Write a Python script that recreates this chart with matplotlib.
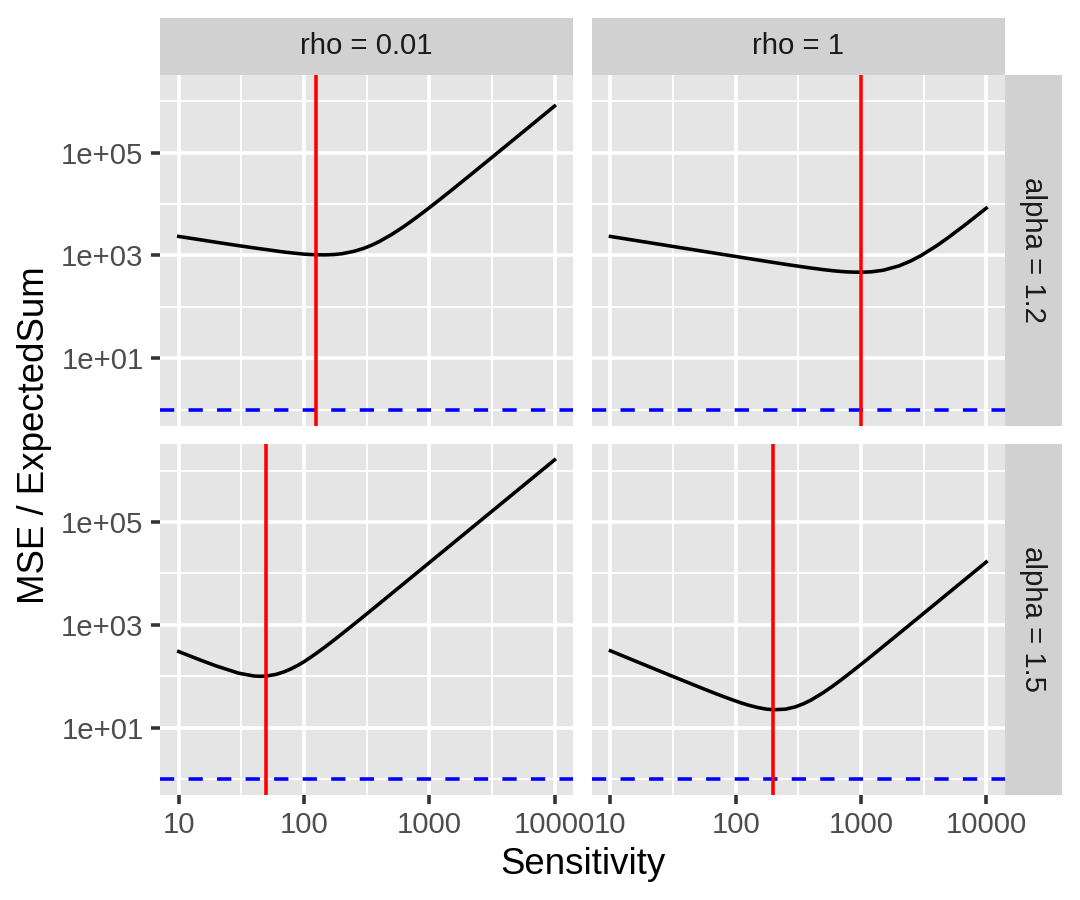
import matplotlib
matplotlib.use("Agg")
import matplotlib.pyplot as plt
import numpy as np

plt.rcParams['font.family'] = ['Liberation Sans', 'DejaVu Sans']

# ---------------- data ----------------
sensitivity = [10, 15, 20, 30, 40, 45, 50, 60, 70, 80, 90, 100, 110, 125, 150,
               175, 200, 250, 300, 350, 400, 500, 600, 700, 800, 1000, 1200,
               1500, 2000, 2500, 3000, 4000, 5000, 7000, 10000]

mse_rho001_alpha12 = [2340, 2010, 1800, 1550, 1400, 1343, 1300, 1220, 1160, 1120,
                      1087, 1060, 1044, 1030, 1025, 1042, 1078, 1199, 1373, 1598,
                      1870, 2549, 3397, 4416, 5601, 8466, 11973, 18467, 32528,
                      50640, 72716, 129070, 201597, 394655, 805551]
mse_rho1_alpha12 = [2339, 1997, 1785, 1524, 1362, 1301, 1249, 1163, 1095, 1040,
                    994, 954, 919, 874, 816, 768, 730, 671, 628, 595, 568, 529,
                    503, 486, 476, 470, 479, 514, 622, 781, 986, 1529, 2244,
                    4172, 8298]
mse_rho001_alpha15 = [302, 205, 158, 115, 101, 99.9, 101, 109, 123, 142, 165,
                      192, 224, 278, 385, 514, 664, 1026, 1469, 1995, 2602, 4061,
                      5839, 7947, 10379, 16221, 23338, 36475, 64863, 101391,
                      145881, 259418, 405509, 794328, 1621810]
mse_rho1_alpha15 = [313, 208, 156, 104, 78.5, 69.8, 62.9, 52.7, 45.5, 40.2, 36.1,
                    33.0, 30.4, 27.6, 24.6, 23.0, 22.3, 22.9, 25.4, 29.4, 34.5,
                    48.0, 65.3, 86.3, 111, 170, 243, 378, 670, 1046, 1504, 2674,
                    4179, 8185, 16711]

rho_labels = ["rho = 0.01", "rho = 1"]
alpha_labels = ["alpha = 1.2", "alpha = 1.5"]
optimal_sensitivity = [[125, 1000], [50, 200]]   # red vertical lines
reference_level = 1                               # blue dashed line

x_breaks = [10, 100, 1000, 10000]
x_labels = ["10", "100", "1000", "10000"]
x_minor = [31.62, 316.2, 3162]
y_breaks = [10, 1000, 100000]
y_labels = ["1e+01", "1e+03", "1e+05"]
y_minor = [1, 100, 10000, 1000000]

series = [[mse_rho001_alpha12, mse_rho1_alpha12],
          [mse_rho001_alpha15, mse_rho1_alpha15]]

# ---------------- layout ----------------
DPI = 240
W, H = 1080, 900
fig = plt.figure(figsize=(W / DPI, H / DPI), dpi=DPI)
fig.patch.set_facecolor("white")

def rect(x0, y0, x1, y1):
    return [x0 / W, 1 - y1 / H, (x1 - x0) / W, (y1 - y0) / H]

PANEL_BG = "#E5E5E5"
STRIP_BG = "#D1D1D1"

left, right_panels = 160.0, 1005.0
gap = 18.4
strip_top, panel_top, panel_bottom = 18.3, 74.5, 795.0
strip_right = 1061.7
pw = (right_panels - left - gap) / 2
ph = (panel_bottom - panel_top - gap) / 2
col_x = [(left, left + pw), (left + pw + gap, right_panels)]
row_y = [(panel_top, panel_top + ph), (panel_top + ph + gap, panel_bottom)]

# scale limits (log space, 5% expansion like ggplot)
all_y = np.concatenate([np.asarray(s, float) for r in series for s in r] +
                       [np.array([reference_level], float)])
ylo, yhi = np.log10(all_y.min()), np.log10(all_y.max())
ypad = 0.05 * (yhi - ylo)
xlo, xhi = np.log10(min(sensitivity)), np.log10(max(sensitivity))
xpad = 0.05 * (xhi - xlo)

LW = 1.07
for r in range(2):
    for c in range(2):
        x0, x1 = col_x[c]
        y0, y1 = row_y[r]
        ax = fig.add_axes(rect(x0, y0, x1, y1))
        ax.set_facecolor(PANEL_BG)
        for s in ax.spines.values():
            s.set_visible(False)
        ax.set_xscale("log")
        ax.set_yscale("log")
        ax.set_xlim(10 ** (xlo - xpad), 10 ** (xhi + xpad))
        ax.set_ylim(10 ** (ylo - ypad), 10 ** (yhi + ypad))
        ax.set_xticks(x_breaks, labels=x_labels)
        ax.set_xticks(x_minor, minor=True)
        ax.set_yticks(y_breaks, labels=y_labels)
        ax.set_yticks(y_minor, minor=True)
        ax.xaxis.set_minor_formatter(matplotlib.ticker.NullFormatter())
        ax.yaxis.set_minor_formatter(matplotlib.ticker.NullFormatter())
        ax.set_axisbelow(True)
        ax.grid(True, which="major", color="white", linewidth=LW)
        ax.grid(True, which="minor", color="white", linewidth=LW / 2)
        ax.tick_params(which="minor", length=0)
        ax.tick_params(which="major", length=2.74, width=LW, color="#333333",
                       pad=2.2, labelsize=8.8, labelcolor="#4D4D4D")
        if r == 0:
            ax.tick_params(axis="x", which="major", length=0, labelbottom=False)
        if c == 1:
            ax.tick_params(axis="y", which="major", length=0, labelleft=False)

        ax.plot(sensitivity, series[r][c], color="black", linewidth=LW,
                solid_joinstyle="round", zorder=3)
        ax.axhline(reference_level, color="blue", linewidth=LW,
                   linestyle=(0, (4, 4)), dash_capstyle="butt", zorder=4)
        ax.axvline(optimal_sensitivity[r][c], color="red", linewidth=LW, zorder=5)

# top strips
for c in range(2):
    x0, x1 = col_x[c]
    sax = fig.add_axes(rect(x0, strip_top, x1, panel_top))
    sax.set_facecolor(STRIP_BG)
    sax.set_xticks([]); sax.set_yticks([])
    for s in sax.spines.values():
        s.set_visible(False)
    sax.text(0.5, 0.5, rho_labels[c], ha="center", va="center",
             fontsize=8.8, color="#1A1A1A", transform=sax.transAxes)

# right strips
for r in range(2):
    y0, y1 = row_y[r]
    sax = fig.add_axes(rect(right_panels, y0, strip_right, y1))
    sax.set_facecolor(STRIP_BG)
    sax.set_xticks([]); sax.set_yticks([])
    for s in sax.spines.values():
        s.set_visible(False)
    sax.text(0.5, 0.5, alpha_labels[r], ha="center", va="center", rotation=-90,
             fontsize=8.8, color="#1A1A1A", transform=sax.transAxes)

# axis titles
fig.text((left + right_panels) / 2 / W, 1 - 865 / H, "Sensitivity",
         ha="center", va="center", fontsize=11, color="black")
fig.text(35 / W, 1 - (panel_top + panel_bottom) / 2 / H, "MSE / ExpectedSum",
         ha="center", va="center", rotation=90, fontsize=11, color="black")

fig.savefig("out.png", dpi=DPI, facecolor="white")
